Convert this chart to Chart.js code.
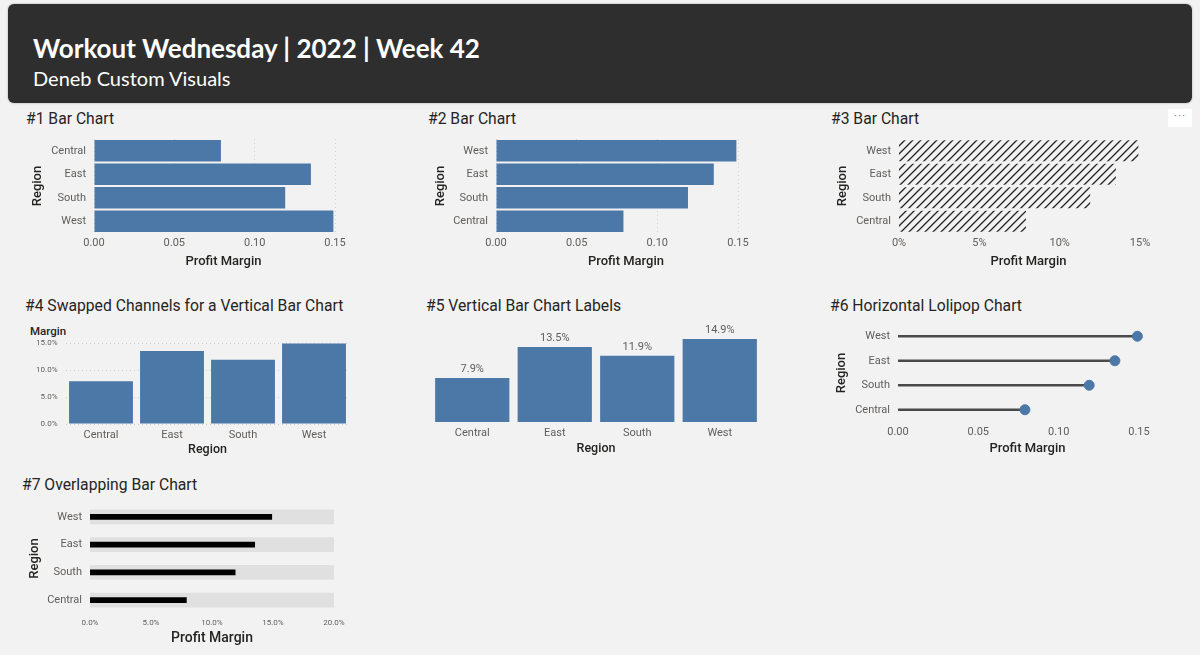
<!DOCTYPE html>
<html>
<head>
<meta charset="utf-8">
<script src="https://cdn.jsdelivr.net/npm/chart.js@4"></script>
<style>
  body { margin: 0; background: #f2f2f2; width: 1200px; height: 655px; overflow: hidden; position: relative; font-family: Roboto, sans-serif; }
  .hdr { position: absolute; left: 8px; top: 4px; width: 1184px; height: 99px; background: #2e2e2e; border-radius: 6px; box-shadow: 0 0 2px #999; }
  .hdr .t1 { position: absolute; left: 25px; top: 29px; font: bold 26px Lato, sans-serif; color: #fff; line-height: 30px; white-space: nowrap; }
  .hdr .t2 { position: absolute; left: 25px; top: 62px; font: 20px Lato, sans-serif; color: #fff; line-height: 24px; white-space: nowrap; }
  .ttl { position: absolute; font-size: 15.7px; color: #252423; line-height: 18px; white-space: nowrap; }
  .cv { position: absolute; }
  .more { position: absolute; left: 1168px; top: 109px; width: 24px; height: 18px; background: #fff; color: #888; font-size: 12px; line-height: 14px; text-align: center; letter-spacing: 1px; }
</style>
</head>
<body>
<div class="hdr">
  <div class="t1">Workout Wednesday | 2022 | Week 42</div>
  <div class="t2">Deneb Custom Visuals</div>
</div>

<div class="ttl" style="left:26px;top:110px">#1 Bar Chart</div>
<div class="ttl" style="left:428px;top:110px">#2 Bar Chart</div>
<div class="ttl" style="left:831px;top:110px">#3 Bar Chart</div>
<div class="more">···</div>
<div class="ttl" style="left:25px;top:297px">#4 Swapped Channels for a Vertical Bar Chart</div>
<div class="ttl" style="left:426px;top:297px">#5 Vertical Bar Chart Labels</div>
<div class="ttl" style="left:830px;top:297px">#6 Horizontal Lolipop Chart</div>
<div class="ttl" style="left:22px;top:476px">#7 Overlapping Bar Chart</div>
<div style="position:absolute;left:30px;top:324px;font-size:11.5px;font-weight:500;color:#252423;line-height:14px">Margin</div>

<div class="cv" style="left:30px;top:130px;width:320px;height:140px"><canvas id="c1"></canvas></div>
<div class="cv" style="left:433px;top:130px;width:320px;height:140px"><canvas id="c2"></canvas></div>
<div class="cv" style="left:835px;top:130px;width:320px;height:140px"><canvas id="c3"></canvas></div>
<div class="cv" style="left:20px;top:335px;width:340px;height:122px"><canvas id="c4"></canvas></div>
<div class="cv" style="left:420px;top:320px;width:350px;height:136px"><canvas id="c5"></canvas></div>
<div class="cv" style="left:834px;top:315px;width:320px;height:142px"><canvas id="c6"></canvas></div>
<div class="cv" style="left:27px;top:495px;width:322px;height:151px"><canvas id="c7"></canvas></div>

<script>
const regions = ['Central', 'East', 'South', 'West'];
const margin = [0.079, 0.135, 0.119, 0.149];
// same values, sorted high to low (charts 2, 3, 6, 7)
const regionsDesc = ['West', 'East', 'South', 'Central'];
const marginDesc = [0.149, 0.135, 0.119, 0.079];
const track = [0.2, 0.2, 0.2, 0.2];

const blue = '#4c78a8';
const tickCol = '#605e5c';
const titleCol = '#252423';

Chart.defaults.font.family = 'Roboto';
Chart.defaults.animation = false;
Chart.defaults.maintainAspectRatio = false;
Chart.defaults.plugins.legend.display = false;
Chart.defaults.plugins.tooltip.enabled = false;

const dec2 = v => v.toFixed(2);
const pct0 = v => Math.round(v * 100) + '%';
const pct1 = v => (v * 100).toFixed(1) + '%';

// x axis title drawn by hand, so it can sit a little right of centre like the original
Chart.register({
  id: 'xTitle',
  afterDraw(chart, args, opts) {
    if (!opts.text) return;
    const { ctx, chartArea } = chart;
    ctx.save();
    ctx.font = '500 ' + opts.size + 'px Roboto';
    ctx.fillStyle = titleCol;
    ctx.textAlign = 'center';
    ctx.textBaseline = 'middle';
    ctx.fillText(opts.text, (chartArea.left + chartArea.right) / 2 + opts.dx, chartArea.bottom + opts.dy);
    ctx.restore();
  }
});

function valueAxis(max, fmt, h, o = {}) {
  return {
    type: 'linear', min: 0, max: max,
    ticks: { stepSize: 0.05, callback: fmt, font: { size: o.tick || 11 }, color: tickCol, padding: o.pad || 4, maxRotation: 0 },
    grid: { display: o.grid !== false, drawTicks: false, color: 'rgba(0,0,0,0.13)' },
    border: { display: false, dash: [1, 3] },
    afterFit: s => { s.height = h; s.paddingLeft = 0; s.paddingRight = 0; }
  };
}

function regionAxis(w) {
  return {
    type: 'category',
    ticks: { font: { size: 11 }, color: tickCol, padding: 8 },
    grid: { display: false, drawTicks: false },
    border: { display: false },
    title: { display: true, text: 'Region', font: { size: 13, weight: '500' }, color: titleCol, padding: 0 },
    afterFit: s => { s.width = w; s.paddingTop = 0; s.paddingBottom = 0; }
  };
}

const pm = (dy, dx, size) => ({ text: 'Profit Margin', dy: dy, dx: dx, size: size || 13 });

// #1
new Chart(document.getElementById('c1'), {
  type: 'bar',
  data: { labels: regions, datasets: [{ data: margin, backgroundColor: blue, barPercentage: 0.92, categoryPercentage: 1 }] },
  options: {
    indexAxis: 'y',
    layout: { padding: { top: 9, right: 15 } },
    plugins: { xTitle: pm(29, 9) },
    scales: { x: valueAxis(0.15, dec2, 37), y: regionAxis(64) }
  }
});

// #2
new Chart(document.getElementById('c2'), {
  type: 'bar',
  data: { labels: regionsDesc, datasets: [{ data: marginDesc, backgroundColor: blue, barPercentage: 0.92, categoryPercentage: 1 }] },
  options: {
    indexAxis: 'y',
    layout: { padding: { top: 9, right: 15 } },
    plugins: { xTitle: pm(29, 9) },
    scales: { x: valueAxis(0.15, dec2, 37), y: regionAxis(63) }
  }
});

// #3 hatched
const c3 = document.getElementById('c3');
function hatch(ctx) {
  const p = document.createElement('canvas');
  p.width = 8; p.height = 8;
  const g = p.getContext('2d');
  g.strokeStyle = '#2a2a2a';
  g.lineWidth = 1.4;
  g.beginPath();
  g.moveTo(0, 8); g.lineTo(8, 0);
  g.moveTo(-2, 2); g.lineTo(2, -2);
  g.moveTo(6, 10); g.lineTo(10, 6);
  g.stroke();
  return ctx.createPattern(p, 'repeat');
}
new Chart(c3, {
  type: 'bar',
  data: { labels: regionsDesc, datasets: [{ data: marginDesc, backgroundColor: hatch(c3.getContext('2d')), barPercentage: 0.9, categoryPercentage: 1 }] },
  options: {
    indexAxis: 'y',
    layout: { padding: { top: 9, right: 15 } },
    plugins: { xTitle: pm(29, 9) },
    scales: { x: valueAxis(0.15, pct0, 37, { grid: false }), y: regionAxis(64) }
  }
});

// #4
new Chart(document.getElementById('c4'), {
  type: 'bar',
  data: { labels: regions, datasets: [{ data: margin, backgroundColor: blue, barPercentage: 0.9, categoryPercentage: 1 }] },
  options: {
    layout: { padding: { top: 8, right: 10.5 } },
    scales: {
      x: {
        ticks: { font: { size: 11 }, color: tickCol, padding: 5 },
        grid: { display: false, drawTicks: false },
        border: { display: false },
        title: { display: true, text: 'Region', font: { size: 12.5, weight: '500' }, color: titleCol, padding: 0 },
        afterFit: s => { s.height = 33; }
      },
      y: {
        min: 0, max: 0.15,
        ticks: { stepSize: 0.05, callback: pct1, font: { size: 8 }, color: tickCol, padding: 8 },
        grid: { drawTicks: false, color: 'rgba(0,0,0,0.15)' },
        border: { display: false, dash: [1, 3] },
        afterFit: s => { s.width = 45.5; s.paddingTop = 0; s.paddingBottom = 0; }
      }
    }
  }
});

// #5 labels above bars
const barLabels = {
  id: 'barLabels',
  afterDatasetsDraw(chart) {
    const ctx = chart.ctx;
    ctx.save();
    ctx.font = '11px Roboto';
    ctx.fillStyle = tickCol;
    ctx.textAlign = 'center';
    ctx.textBaseline = 'bottom';
    chart.getDatasetMeta(0).data.forEach((bar, i) => {
      ctx.fillText(pct1(margin[i]), bar.x, bar.y - 3);
    });
    ctx.restore();
  }
};
new Chart(document.getElementById('c5'), {
  type: 'bar',
  data: { labels: regions, datasets: [{ data: margin, backgroundColor: blue, barPercentage: 0.9, categoryPercentage: 1 }] },
  options: {
    layout: { padding: { top: 13, left: 11, right: 9 } },
    scales: {
      x: {
        ticks: { font: { size: 11 }, color: tickCol, padding: 5 },
        grid: { display: false, drawTicks: false },
        border: { display: false },
        title: { display: true, text: 'Region', font: { size: 12.5, weight: '500' }, color: titleCol, padding: 0 },
        afterFit: s => { s.height = 34; }
      },
      y: { display: false, min: 0, max: 0.16 }
    }
  },
  plugins: [barLabels]
});

// #6 lollipop
new Chart(document.getElementById('c6'), {
  type: 'bar',
  data: {
    labels: regionsDesc,
    datasets: [
      { type: 'line', indexAxis: 'y', data: marginDesc, showLine: false, pointRadius: 5, pointBackgroundColor: blue, pointBorderColor: blue, clip: false, order: 0 },
      { data: marginDesc, backgroundColor: '#4a4a4a', barThickness: 1.6, order: 1 }
    ]
  },
  options: {
    indexAxis: 'y',
    layout: { padding: { top: 9, right: 15 } },
    plugins: { xTitle: pm(27, 9) },
    scales: { x: valueAxis(0.15, dec2, 35, { grid: false }), y: regionAxis(64) }
  }
});

// #7 overlapping
new Chart(document.getElementById('c7'), {
  type: 'bar',
  data: {
    labels: regionsDesc,
    datasets: [
      { data: marginDesc, backgroundColor: '#000', barThickness: 5, order: 1 },
      { data: track, backgroundColor: '#e0e0e0', barThickness: 14, order: 2 }
    ]
  },
  options: {
    indexAxis: 'y',
    datasets: { bar: { grouped: false } },
    layout: { padding: { top: 8, right: 15 } },
    plugins: { xTitle: pm(24, 0, 14) },
    scales: { x: valueAxis(0.2, pct1, 32, { grid: false, tick: 8 }), y: regionAxis(63) }
  }
});
</script>
</body>
</html>
